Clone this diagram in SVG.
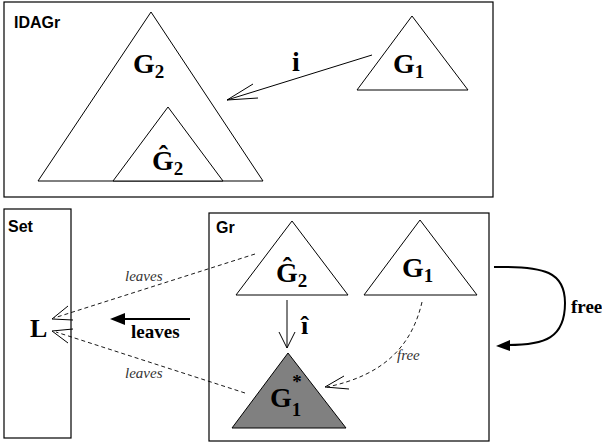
<svg xmlns="http://www.w3.org/2000/svg" width="602" height="448" viewBox="0 0 602 448">
<style>
.box{fill:#fff;stroke:#000;stroke-width:1.2}
.tri{fill:#fff;stroke:#000;stroke-width:1}
.lbl{font-family:"Liberation Sans",Arial,sans-serif;font-weight:bold;font-size:16px}
.m{font-family:"Liberation Serif","Times New Roman",serif;font-weight:bold;font-size:28px}
.sub{font-size:19px}
.it{font-family:"Liberation Serif","Times New Roman",serif;font-style:italic;font-size:15px;fill:#333}
.bl{font-family:"Liberation Serif","Times New Roman",serif;font-weight:bold;font-size:19px}
.thin{fill:none;stroke:#000;stroke-width:1}
.dash{fill:none;stroke:#000;stroke-width:0.9;stroke-dasharray:4,3}
.thick{fill:none;stroke:#000;stroke-width:2}
</style>
<rect width="602" height="448" fill="#fff"/>
<g id="IDAGr">
<rect class="box" x="4" y="2" width="489" height="195"/>
<text class="lbl" x="14" y="28">IDAGr</text>
</g>
<g id="G2big">
<polygon class="tri" points="151,12 263,181 38,181"/>
<text class="m" x="133" y="73">G<tspan class="sub" dy="5">2</tspan></text>
</g>
<g id="G2hat_top">
<polygon class="tri" points="168,107 223,181 113,181"/>
<text class="m" x="152" y="170">Ĝ<tspan class="sub" dy="5">2</tspan></text>
</g>
<g id="G1_top">
<polygon class="tri" points="412,16 468,90 357,90"/>
<text class="m" x="393" y="73">G<tspan class="sub" dy="5">1</tspan></text>
</g>
<g id="Set">
<rect class="box" x="4" y="209" width="67" height="229"/>
<text class="lbl" x="8" y="232">Set</text>
<text class="m" x="30" y="337" style="font-size:26px">L</text>
</g>
<g id="Gr">
<rect class="box" x="209" y="213" width="280" height="228"/>
<text class="lbl" x="216" y="233">Gr</text>
</g>
<g id="G2hat_gr">
<polygon class="tri" points="292,221 348,295 236,295"/>
<text class="m" x="276" y="282">Ĝ<tspan class="sub" dy="5">2</tspan></text>
</g>
<g id="G1_gr">
<polygon class="tri" points="420,220 477,295 364,295"/>
<text class="m" x="402" y="277">G<tspan class="sub" dy="5">1</tspan></text>
</g>
<g id="G1star">
<polygon points="288,353 346,428 232,428" fill="#808080" stroke="#000" stroke-width="1"/>
<text class="m" x="270" y="407">G<tspan class="sub" dy="9">1</tspan><tspan class="sub" dx="-9" dy="-28">*</tspan></text>
</g>
<g id="connectors">
<path class="thin" d="M372,55 L227,100 M253,84 L227,100 L258,98"/>
<text class="m" x="292" y="71">i</text>
<path class="dash" d="M255,254 L54,318"/>
<path class="thin" d="M68,306 L52,319 L73,320"/>
<text class="it" x="125" y="281">leaves</text>
<path class="dash" d="M245,393 L56,332"/>
<path class="thin" d="M73,329 L52,331 L68,343"/>
<text class="it" x="125" y="378">leaves</text>
<path class="thick" d="M190,319 L122,319"/>
<polygon points="110,319 125,313 125,325" fill="#000"/>
<text class="bl" x="131" y="338">leaves</text>
<path class="thin" d="M287,300 L287,348 M279,332 L287,348 L295,332"/>
<text class="m" x="301" y="334" style="font-size:26px">î</text>
<path class="dash" d="M422,302 C412,345 385,375 327,387"/>
<path class="thin" d="M344,376 L325,387 L349,389"/>
<text class="it" x="397" y="360">free</text>
<path class="thick" d="M494,267 C545,266 565,272 565,303 C565,338 545,345 508,345"/>
<polygon points="496,346 510,340 510,351" fill="#000"/>
<text class="bl" x="571" y="313">free</text>
</g>
</svg>
